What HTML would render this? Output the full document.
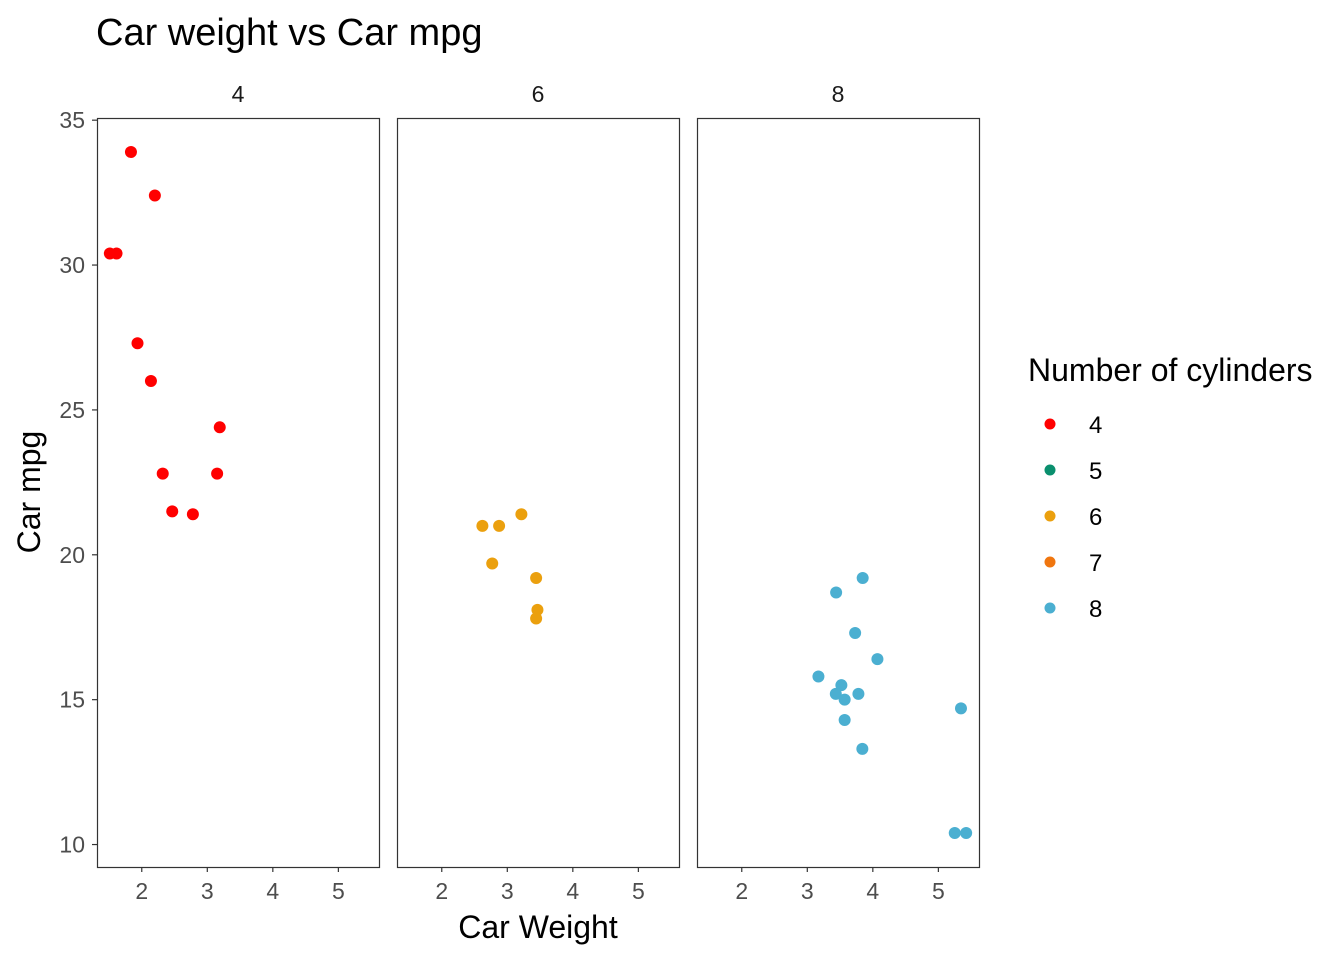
<!DOCTYPE html>
<html><head><meta charset="utf-8"><style>
body{margin:0;background:#fff;}
svg text{font-family:"Liberation Sans",Arial,sans-serif;}
</style></head><body>
<svg id="chart" width="1344" height="960" xmlns="http://www.w3.org/2000/svg">
<text x="96" y="45" font-size="38" fill="#000">Car weight vs Car mpg</text>
<text x="538" y="938" font-size="32" text-anchor="middle" fill="#000">Car Weight</text>
<text x="0" y="0" font-size="32" text-anchor="middle" fill="#000" transform="translate(40,492) rotate(-90)">Car mpg</text>
<g id="panels"></g>
<g id="legend">
<text x="1028" y="381" font-size="32" fill="#000">Number of cylinders</text>
</g>
</svg>
<script>
const facets=[4,6,8];
const wt4=[2.320,3.190,3.150,2.200,1.615,1.835,2.465,1.935,2.140,1.513,2.780];
const mpg4=[22.8,24.4,22.8,32.4,30.4,33.9,21.5,27.3,26.0,30.4,21.4];
const wt6=[2.620,2.875,3.215,3.460,3.440,3.440,2.770];
const mpg6=[21.0,21.0,21.4,18.1,19.2,17.8,19.7];
const wt8=[3.440,3.570,4.070,3.730,3.780,5.250,5.424,5.345,3.520,3.435,3.840,3.845,3.170,3.570];
const mpg8=[18.7,14.3,16.4,17.3,15.2,10.4,10.4,14.7,15.5,15.2,13.3,19.2,15.8,15.0];
const xTicks=[2,3,4,5];
const yTicks=[10,15,20,25,30,35];
const legendKeys=[4,5,6,7,8];
const colors={4:"#FF0000",5:"#0A8F6E",6:"#EBA00E",7:"#F0760F",8:"#4BAFD1"};
const series={4:[wt4,mpg4],6:[wt6,mpg6],8:[wt8,mpg8]};
const NS="http://www.w3.org/2000/svg";
const panelLefts=[97,397,697], pw=282, pTop=118, ph=749;
const xmin=1.317,xmax=5.620,ymin=9.225,ymax=35.075;
function sx(v,l){return l+(v-xmin)/(xmax-xmin)*pw;}
function sy(v){return pTop+ph-(v-ymin)/(ymax-ymin)*ph;}
function mk(tag,attrs,parent){const e=document.createElementNS(NS,tag);for(const k in attrs)e.setAttribute(k,attrs[k]);parent.appendChild(e);return e;}
const g=document.getElementById('panels');
facets.forEach((f,i)=>{
  const l=panelLefts[i];
  const p=mk('g',{},g);
  
  
  const st=mk('text',{x:l+pw/2,y:102,'font-size':23,'text-anchor':'middle',fill:'#1A1A1A'},p);
  st.textContent=f;
  
  
  const [xs,ys]=series[f];
  xs.forEach((x,j)=>{
    const c=mk('circle',{cx:sx(x,l),cy:sy(ys[j]),r:6,fill:colors[f]},p);
    
    
  });
  const r=mk('rect',{x:l+0.5,y:pTop+0.5,width:pw,height:ph,fill:'none',stroke:'#333','stroke-width':1.2},p);
  
  
  xTicks.forEach(t=>{
    const x=sx(t,l);
    mk('line',{x1:x,x2:x,y1:pTop+ph,y2:pTop+ph+5,stroke:'#333','stroke-width':1.2},p);
    const tx=mk('text',{x:x,y:pTop+ph+32,'font-size':23,'text-anchor':'middle',fill:'#4D4D4D'},p);
    tx.textContent=t;
    
    
  });
  if(i===0){
    yTicks.forEach(t=>{
      const y=sy(t);
      mk('line',{x1:l-5,x2:l,y1:y,y2:y,stroke:'#333','stroke-width':1.2},p);
      const ty=mk('text',{x:l-12,y:y+8,'font-size':23,'text-anchor':'end',fill:'#4D4D4D'},p);
      ty.textContent=t;
      
      
    });
  }
});
const lg=document.getElementById('legend');
legendKeys.forEach((k,i)=>{
  const y=424+i*46;
  const c=mk('circle',{cx:1050,cy:y,r:5.5,fill:colors[k]},lg);
  
  
  const t=mk('text',{x:1089,y:y+9,'font-size':24,fill:'#000'},lg);
  t.textContent=k;
  
  
});
</script>
</body></html>
